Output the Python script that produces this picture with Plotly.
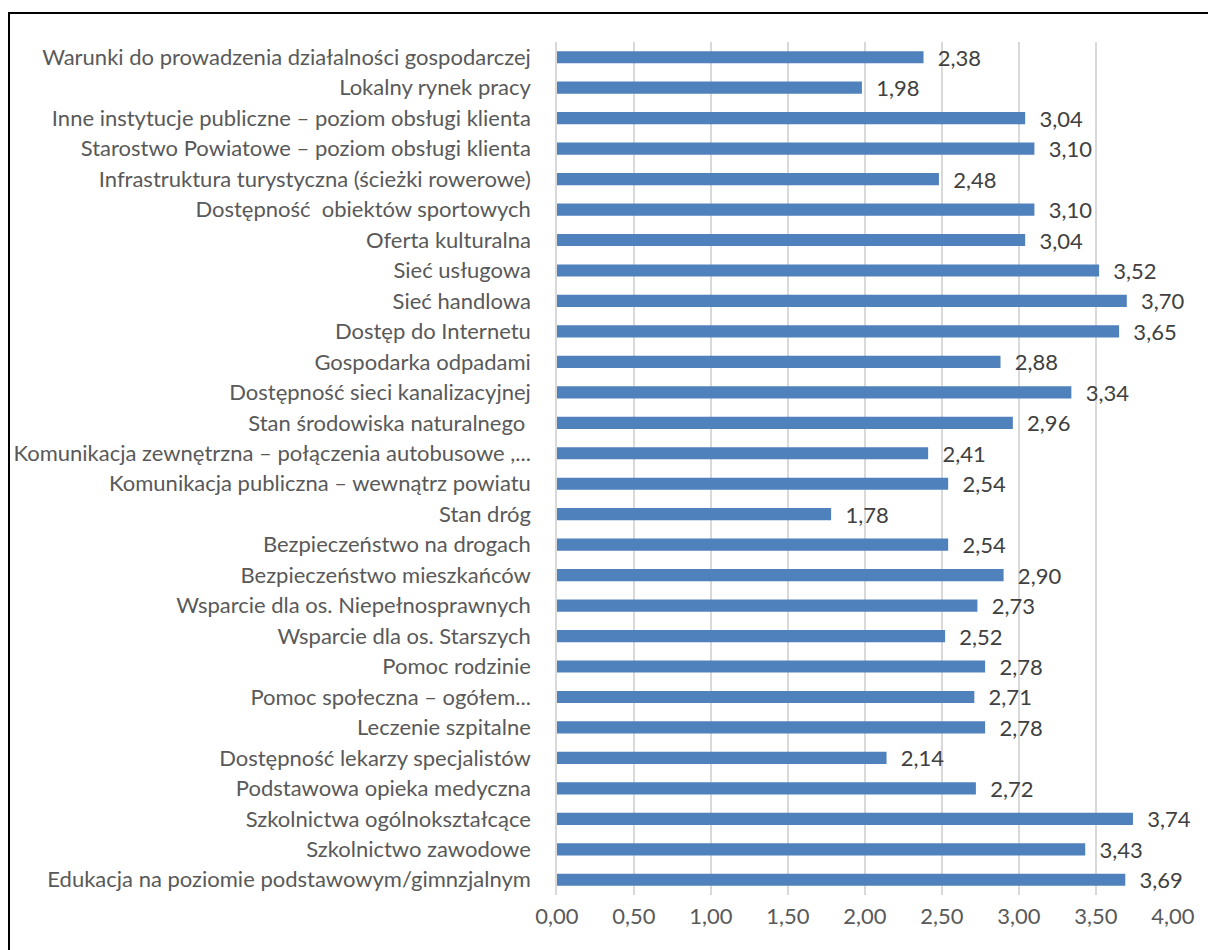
import plotly.graph_objects as go

categories = [
    "Warunki do prowadzenia działalności gospodarczej",
    "Lokalny rynek pracy",
    "Inne instytucje publiczne – poziom obsługi klienta",
    "Starostwo Powiatowe – poziom obsługi klienta",
    "Infrastruktura turystyczna (ścieżki rowerowe)",
    "Dostępność  obiektów sportowych",
    "Oferta kulturalna",
    "Sieć usługowa",
    "Sieć handlowa",
    "Dostęp do Internetu",
    "Gospodarka odpadami",
    "Dostępność sieci kanalizacyjnej",
    "Stan środowiska naturalnego ",
    "Komunikacja zewnętrzna – połączenia autobusowe ,...",
    "Komunikacja publiczna – wewnątrz powiatu",
    "Stan dróg",
    "Bezpieczeństwo na drogach",
    "Bezpieczeństwo mieszkańców",
    "Wsparcie dla os. Niepełnosprawnych",
    "Wsparcie dla os. Starszych",
    "Pomoc rodzinie",
    "Pomoc społeczna – ogółem...",
    "Leczenie szpitalne",
    "Dostępność lekarzy specjalistów",
    "Podstawowa opieka medyczna",
    "Szkolnictwa ogólnokształcące",
    "Szkolnictwo zawodowe",
    "Edukacja na poziomie podstawowym/gimnzjalnym",
]
values = [2.38, 1.98, 3.04, 3.10, 2.48, 3.10, 3.04, 3.52, 3.70, 3.65, 2.88, 3.34,
          2.96, 2.41, 2.54, 1.78, 2.54, 2.90, 2.73, 2.52, 2.78, 2.71, 2.78, 2.14,
          2.72, 3.74, 3.43, 3.69]
x_ticks = [0, 0.5, 1, 1.5, 2, 2.5, 3, 3.5, 4]

FONT = "Lato"
FS = 22

W, H = 1208, 942
L, R, T, B = 549, 43, 34, 55
PW, PH = W - L - R, H - T - B

fig = go.Figure(go.Bar(
    x=values, y=categories, orientation="h",
    marker=dict(color="#4F81BD", line=dict(width=0)),
    width=0.4,
    texttemplate="\u00a0\u00a0%{x:.2f}", textposition="outside",
    constraintext="none",
    textfont=dict(family=FONT, size=FS, color="#404040"),
    cliponaxis=False,
))

fig.update_layout(
    width=W, height=H,
    margin=dict(l=L, r=R, t=T, b=B, autoexpand=False),
    paper_bgcolor="white", plot_bgcolor="white",
    separators=", ",
    showlegend=False,
    font=dict(family=FONT, size=FS, color="#595959"),
    xaxis=dict(range=[0, 4], tickvals=x_ticks, tickformat=".2f",
               automargin=False,
               showgrid=True, gridcolor="#D9D9D9", gridwidth=1.5,
               zeroline=False, showline=False,
               tickfont=dict(family=FONT, size=FS, color="#595959"),
               ticks="", ticklabelstandoff=6),
    yaxis=dict(autorange="reversed", showgrid=False, showline=True,
               automargin=False,
               linecolor="#D9D9D9", linewidth=1.5, ticks="",
               ticklabelstandoff=20,
               tickfont=dict(family=FONT, size=FS, color="#595959")),
    shapes=[dict(type="rect", xref="paper", yref="paper",
                 x0=(1 - L) / PW, x1=(W + 20 - L) / PW,
                 y0=-(B + 20) / PH, y1=(H - B - 5) / PH,
                 line=dict(color="black", width=2), layer="above")],
)

fig.write_html("out.html")
